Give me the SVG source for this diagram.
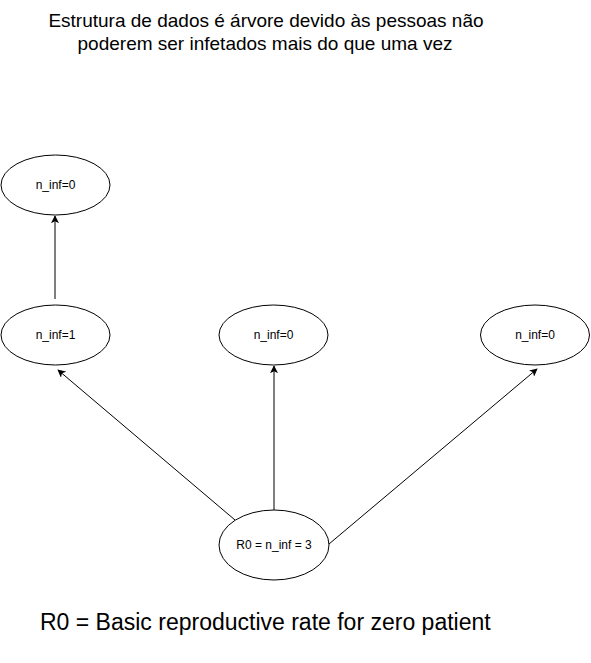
<svg xmlns="http://www.w3.org/2000/svg" width="591" height="663" viewBox="0 0 591 663">
<style>
.node ellipse{fill:#fff;stroke:#000;stroke-width:1}
.node text{font-family:"Liberation Sans",Arial,sans-serif;font-size:12px;fill:#000;text-anchor:middle;dominant-baseline:central}
.edge{stroke:#000;stroke-width:1;fill:none;marker-end:url(#arr)}
.lbl{font-family:"Liberation Sans",Arial,sans-serif;fill:#000}
</style>
<defs>
<marker id="arr" viewBox="0 0 10 10" refX="9" refY="5" markerWidth="8" markerHeight="8" markerUnits="userSpaceOnUse" orient="auto">
<path d="M0,0 L10,5 L0,10 L2.5,5 Z" fill="#000"/>
</marker>
</defs>
<rect width="591" height="663" fill="#fff"/>
<text class="lbl" x="266" y="27" font-size="19" text-anchor="middle">Estrutura de dados é árvore devido às pessoas não</text>
<text class="lbl" x="265" y="50" font-size="19" text-anchor="middle">poderem ser infetados mais do que uma vez</text>
<g id="connectors">
<line class="edge" x1="55" y1="299" x2="55" y2="216"/>
<line class="edge" x1="235" y1="520" x2="58" y2="370"/>
<line class="edge" x1="274" y1="510" x2="274" y2="366"/>
<line class="edge" x1="329" y1="544" x2="537" y2="369"/>
</g>
<g id="n_top" class="node"><ellipse cx="55.5" cy="185" rx="54.5" ry="30"/><text x="55.5" y="185">n_inf=0</text></g>
<g id="n_left" class="node"><ellipse cx="55.5" cy="335" rx="54.5" ry="30"/><text x="55.5" y="335">n_inf=1</text></g>
<g id="n_mid" class="node"><ellipse cx="273.5" cy="335" rx="54.5" ry="30"/><text x="273.5" y="335">n_inf=0</text></g>
<g id="n_right" class="node"><ellipse cx="535" cy="335" rx="54.5" ry="30"/><text x="535" y="335">n_inf=0</text></g>
<g id="n_root" class="node"><ellipse cx="274" cy="545" rx="55" ry="35"/><text x="274" y="545">R0 = n_inf = 3</text></g>
<text class="lbl" x="40" y="630" font-size="23">R0 = Basic reproductive rate for zero patient</text>
</svg>
